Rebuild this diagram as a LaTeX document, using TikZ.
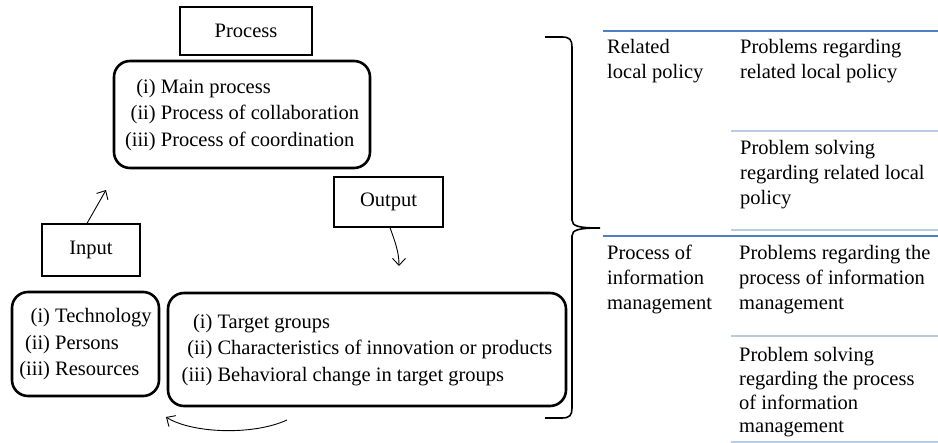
\documentclass[tikz,border=0pt]{standalone}
\usepackage{fontspec}
\setmainfont{Liberation Serif}
\usetikzlibrary{arrows.meta}
\definecolor{tabdark}{RGB}{79,129,189}
\definecolor{tablight}{RGB}{184,204,228}
\tikzset{
  titlebox/.style={draw,line width=1.2pt,inner sep=0pt},
  listbox/.style={draw,line width=2.6pt,rounded corners=16pt,inner sep=0pt,
    font=\fontsize{20.5}{26.5}\selectfont},
  cell/.style={anchor=base west,inner sep=0pt},
  darkrule/.style={tabdark,line width=2.6pt},
  lightrule/.style={tablight,line width=2.6pt},
  arr/.style={line width=0.9pt,->}
}
\newcommand{\listtab}[1]{\begin{tabular}{@{}r@{~}l@{}}#1\end{tabular}}
\newcommand{\celltab}[1]{\begin{tabular}[t]{@{}l@{}}#1\end{tabular}}
\begin{document}
\begin{tikzpicture}[x=1pt,y=-1pt,font=\fontsize{20.5}{25}\selectfont,
  >={Straight Barb[length=7pt,width=13pt]}]
\useasboundingbox (0,0) rectangle (938,443);
% cycle
\node[titlebox,minimum width=132pt,minimum height=48pt] (procttl) at (246,31) {Process};
\node[listbox,minimum width=256pt,minimum height=107pt] (mainproc) at (242,114.5)
  {\listtab{(i) & Main process\\ (ii) & Process of collaboration\\ (iii) & Process of coordination}};
\node[titlebox,minimum width=109pt,minimum height=50pt] (outttl) at (388.5,202) {Output};
\node[titlebox,minimum width=98pt,minimum height=52pt] (inttl) at (91,250) {Input};
\node[listbox,minimum width=147pt,minimum height=104pt] (inres) at (85.5,344)
  {\listtab{(i) & Technology\\ (ii) & Persons\\ (iii) & Resources}};
\node[listbox,minimum width=398pt,minimum height=113pt] (outgroups) at (367,349.5)
  {\listtab{(i) & Target groups\\ (ii) & Characteristics of innovation or products\\ (iii) & Behavioral change in target groups}};
\coordinate (inhead) at (106,190);
\coordinate (outhead) at (399,266);
\coordinate (fbstart) at (287,420);
\coordinate (fbhead) at (166,417);
\draw[arr] ([xshift=-4pt]inttl.north) -- (inhead);
\draw[arr] ([xshift=1.5pt]outttl.south) .. controls +(5,14) and +(0,-14) .. (outhead);
\draw[arr] (fbstart) .. controls +(-35,16) and +(25,16) .. (fbhead);
% brace
\draw[line width=1.6pt] (545,37) -- (562,37) .. controls (570,37) and (572,40) .. (572,47)
  -- (572,220) .. controls (572,226) and (578,228) .. (600,228)
  .. controls (578,228) and (572,230) .. (572,236)
  -- (572,408) .. controls (572,415) and (570,418) .. (562,418) -- (545,418);
% table
\draw[darkrule] (603,31) -- (938,31);
\draw[lightrule] (731,131) -- (938,131);
\draw[lightrule] (731,230) -- (938,230);
\draw[darkrule] (603,236) -- (938,236);
\draw[lightrule] (731,336) -- (938,336);
\draw[lightrule] (731,442) -- (938,442);
\node[cell] (pol) at (607,54) {\celltab{Related\\ local policy}};
\node[cell] (polprob) at (740,54) {\celltab{Problems regarding\\ related local policy}};
\node[cell] (polsolv) at (740,155) {\celltab{Problem solving\\ regarding related local\\ policy}};
\node[cell] (info) at (607,260) {\celltab{Process of\\ information\\ management}};
\node[cell] (infoprob) at (739,260) {\celltab{Problems regarding the\\ process of information\\ management}};
\node[cell,font=\fontsize{20.5}{23.6}\selectfont] (infosolv) at (739,362)
  {\celltab{Problem solving\\ regarding the process\\ of information\\ management}};
\end{tikzpicture}
\end{document}
